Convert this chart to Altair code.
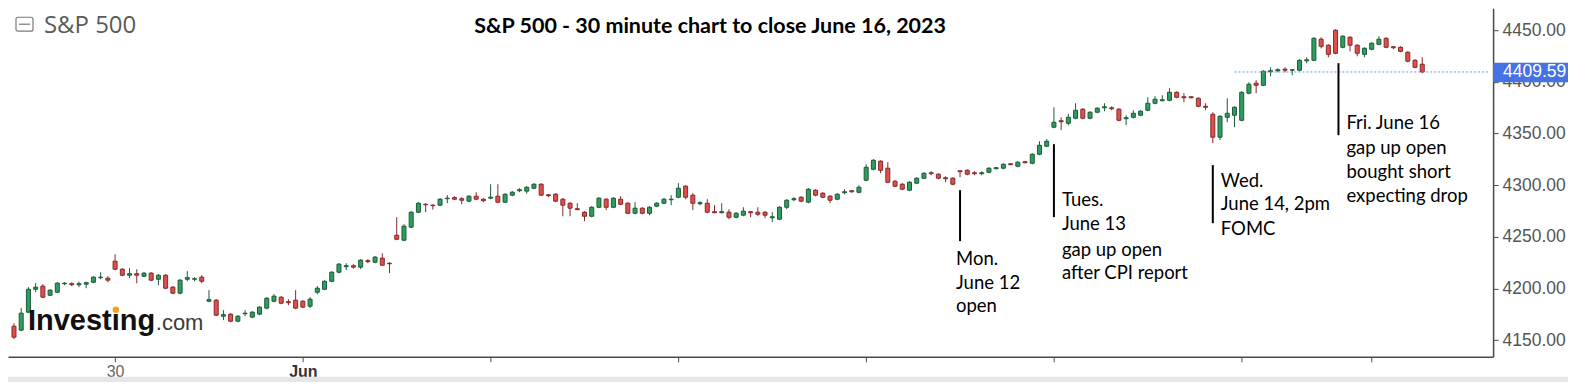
import altair as alt
import pandas as pd

# ---------------- data (30-minute bars, index 0 = first visible bar) ----------------
OPEN = [4163.4, 4159.6, 4177.0, 4199.2, 4202.2, 4193.4, 4196.3, 4204.6, 4204.6, 4203.6,
        4204.1, 4206.0, 4210.4, 4209.9, 4226.4, 4218.6, 4212.8, 4214.3, 4211.8, 4214.8,
        4208.9, 4212.8, 4201.2, 4195.4, 4208.9, 4208.9, 4210.9, 4187.6, 4188.6, 4173.1,
        4175.1, 4168.3, 4175.5, 4172.2, 4175.1, 4180.9, 4187.6, 4191.5, 4187.2, 4188.6,
        4187.6, 4182.8, 4196.3, 4199.2, 4206.9, 4215.7, 4221.1, 4222.0, 4220.6, 4226.9,
        4225.4, 4229.3, 4224.4, 4251.5, 4246.7, 4259.3, 4273.8, 4281.5, 4280.6, 4280.6,
        4286.9, 4287.9, 4286.9, 4284.5, 4289.3, 4286.4, 4287.4, 4289.3, 4283.5, 4290.3,
        4294.6, 4294.2, 4297.0, 4300.9, 4290.7, 4291.2, 4286.4, 4282.5, 4277.2, 4273.8,
        4269.9, 4278.6, 4286.4, 4278.6, 4286.4, 4282.5, 4272.8, 4277.7, 4272.8, 4279.6,
        4282.5, 4285.9, 4288.3, 4299.0, 4290.3, 4282.0, 4282.5, 4274.3, 4273.3, 4273.8,
        4268.9, 4270.9, 4274.3, 4273.8, 4273.8, 4268.4, 4267.0, 4278.6, 4285.9, 4288.3,
        4283.5, 4295.1, 4292.2, 4289.3, 4286.4, 4292.7, 4294.6, 4293.1, 4304.8, 4315.4,
        4323.2, 4316.4, 4303.8, 4300.9, 4295.1, 4301.9, 4306.7, 4312.0, 4310.6, 4307.2,
        4306.7, 4313.9, 4314.4, 4312.0, 4311.1, 4312.5, 4315.9, 4316.4, 4320.7, 4318.3,
        4322.7, 4321.2, 4329.9, 4337.7, 4356.1, 4362.4, 4359.9, 4364.8, 4373.5, 4364.8,
        4370.6, 4374.9, 4374.9, 4373.5, 4364.3, 4365.7, 4367.7, 4372.5, 4379.3, 4381.7,
        4382.2, 4389.9, 4385.6, 4385.6, 4384.1, 4376.4, 4368.6, 4346.4, 4365.7, 4367.7,
        4362.8, 4389.0, 4398.7, 4396.7, 4409.8, 4410.8, 4412.3, 4411.3, 4411.3, 4420.4,
        4420.9, 4441.3, 4435.5, 4450.0, 4433.5, 4443.2, 4435.5, 4426.7, 4431.6, 4436.4,
        4442.2, 4434.0, 4433.5, 4428.7, 4420.9, 4417.1]
HIGH = [4166.3, 4180.9, 4201.2, 4205.1, 4204.1, 4199.2, 4206.0, 4206.0, 4206.0, 4206.5,
        4206.5, 4211.8, 4215.7, 4211.8, 4233.1, 4219.6, 4219.6, 4218.6, 4215.7, 4215.7,
        4213.8, 4213.8, 4202.2, 4208.9, 4216.7, 4210.9, 4212.8, 4198.3, 4189.6, 4179.0,
        4176.0, 4174.1, 4179.0, 4178.0, 4182.8, 4191.5, 4194.4, 4192.5, 4189.6, 4198.3,
        4188.6, 4191.5, 4202.2, 4208.0, 4216.7, 4224.4, 4224.4, 4223.5, 4228.3, 4228.3,
        4231.2, 4234.1, 4225.4, 4269.0, 4262.2, 4274.8, 4283.5, 4282.5, 4281.5, 4287.4,
        4290.3, 4289.3, 4288.3, 4290.3, 4293.2, 4287.4, 4300.9, 4300.9, 4292.2, 4294.2,
        4297.0, 4299.0, 4301.9, 4301.9, 4291.2, 4292.2, 4287.4, 4283.5, 4282.5, 4274.8,
        4279.6, 4288.3, 4287.4, 4288.3, 4289.3, 4283.5, 4283.5, 4278.6, 4279.6, 4283.5,
        4287.4, 4290.3, 4301.9, 4300.0, 4292.2, 4284.5, 4286.4, 4280.6, 4282.5, 4276.7,
        4273.8, 4278.6, 4274.8, 4278.6, 4274.8, 4273.8, 4279.6, 4286.4, 4288.3, 4289.3,
        4297.0, 4296.1, 4293.2, 4290.3, 4292.2, 4296.1, 4295.1, 4299.9, 4320.2, 4325.1,
        4324.1, 4322.2, 4304.8, 4301.9, 4303.8, 4307.7, 4312.5, 4313.5, 4311.5, 4308.6,
        4307.7, 4314.4, 4315.4, 4313.5, 4313.5, 4317.3, 4317.3, 4321.2, 4321.2, 4323.2,
        4323.2, 4330.9, 4342.5, 4344.5, 4375.4, 4365.7, 4369.1, 4379.3, 4374.5, 4371.6,
        4375.4, 4379.3, 4376.4, 4374.5, 4367.7, 4372.5, 4372.5, 4385.1, 4386.1, 4387.0,
        4393.8, 4390.9, 4389.0, 4386.1, 4385.1, 4379.3, 4370.6, 4367.7, 4384.1, 4376.4,
        4390.9, 4399.6, 4401.6, 4411.3, 4414.1, 4413.1, 4414.1, 4412.2, 4421.9, 4423.8,
        4443.2, 4443.2, 4436.4, 4451.0, 4445.2, 4444.2, 4436.4, 4433.5, 4438.4, 4444.2,
        4443.2, 4434.5, 4434.5, 4429.6, 4421.9, 4423.8]
LOW = [4150.9, 4158.6, 4176.0, 4196.3, 4190.5, 4192.5, 4195.4, 4203.1, 4202.2, 4201.2,
       4200.2, 4205.1, 4208.9, 4206.0, 4217.7, 4211.8, 4209.9, 4205.1, 4210.9, 4207.0,
       4203.1, 4199.2, 4194.4, 4194.4, 4207.0, 4207.0, 4205.1, 4186.7, 4173.1, 4169.3,
       4167.3, 4167.3, 4173.1, 4171.2, 4174.1, 4179.9, 4186.7, 4184.7, 4183.8, 4179.9,
       4180.9, 4180.9, 4194.4, 4198.3, 4206.0, 4214.8, 4217.7, 4219.1, 4218.6, 4224.4,
       4224.4, 4221.6, 4214.8, 4246.7, 4245.7, 4258.3, 4272.8, 4273.8, 4276.3, 4279.6,
       4282.5, 4285.4, 4281.5, 4283.5, 4285.4, 4283.5, 4286.4, 4282.5, 4282.5, 4289.3,
       4293.2, 4291.7, 4296.1, 4289.3, 4288.3, 4283.5, 4269.9, 4269.9, 4275.8, 4265.1,
       4268.9, 4277.7, 4275.8, 4277.7, 4280.6, 4271.8, 4271.8, 4271.8, 4270.9, 4278.6,
       4281.5, 4280.6, 4287.4, 4286.4, 4275.8, 4280.6, 4272.8, 4272.8, 4272.8, 4267.0,
       4268.0, 4269.9, 4268.9, 4269.9, 4268.0, 4264.1, 4266.1, 4276.7, 4284.5, 4283.5,
       4282.5, 4289.3, 4287.4, 4282.5, 4285.4, 4291.2, 4292.7, 4292.2, 4303.8, 4314.4,
       4311.5, 4301.9, 4298.0, 4295.1, 4294.1, 4300.9, 4305.7, 4309.6, 4305.7, 4302.8,
       4299.9, 4307.7, 4309.6, 4309.6, 4309.6, 4311.5, 4315.4, 4315.4, 4319.3, 4317.3,
       4321.2, 4320.2, 4329.0, 4336.7, 4355.1, 4353.2, 4358.0, 4363.8, 4363.8, 4363.8,
       4369.6, 4371.6, 4372.5, 4361.9, 4358.0, 4364.8, 4366.7, 4371.6, 4378.3, 4381.2,
       4381.2, 4384.1, 4380.3, 4384.1, 4375.4, 4372.5, 4340.6, 4343.5, 4360.9, 4356.1,
       4361.9, 4388.0, 4389.0, 4395.8, 4405.5, 4409.3, 4409.3, 4406.4, 4410.3, 4418.0,
       4420.0, 4432.5, 4423.8, 4426.7, 4432.5, 4429.6, 4424.8, 4423.8, 4430.6, 4435.5,
       4432.5, 4431.6, 4428.7, 4419.0, 4413.2, 4408.4]
CLOSE = [4152.8, 4176.0, 4199.2, 4201.2, 4191.5, 4198.3, 4205.1, 4205.1, 4203.6, 4204.6,
         4205.6, 4210.9, 4210.9, 4208.0, 4218.6, 4212.8, 4214.3, 4212.8, 4214.8, 4208.0,
         4212.8, 4200.2, 4195.4, 4208.0, 4210.4, 4209.4, 4207.0, 4189.1, 4174.1, 4174.6,
         4168.3, 4173.1, 4176.0, 4177.0, 4181.9, 4190.5, 4192.5, 4185.7, 4186.2, 4180.9,
         4181.9, 4189.6, 4200.2, 4206.9, 4215.7, 4223.5, 4222.0, 4220.6, 4227.4, 4225.9,
         4230.3, 4222.5, 4223.9, 4247.6, 4260.3, 4273.8, 4282.5, 4281.0, 4280.1, 4286.4,
         4287.4, 4286.4, 4285.4, 4289.3, 4286.4, 4284.9, 4288.3, 4283.5, 4291.2, 4293.2,
         4295.6, 4298.0, 4300.9, 4290.3, 4289.8, 4284.5, 4280.6, 4277.7, 4276.3, 4269.9,
         4278.6, 4287.4, 4278.6, 4287.4, 4281.5, 4272.8, 4277.7, 4272.8, 4278.6, 4282.5,
         4286.4, 4286.4, 4297.0, 4288.3, 4282.5, 4283.0, 4273.8, 4273.3, 4274.3, 4268.9,
         4272.8, 4274.8, 4273.3, 4271.8, 4270.9, 4269.4, 4278.6, 4285.4, 4286.9, 4284.5,
         4296.1, 4290.3, 4288.3, 4285.4, 4291.2, 4293.6, 4293.6, 4298.0, 4317.3, 4324.1,
         4314.4, 4302.8, 4299.0, 4296.1, 4302.8, 4306.7, 4311.5, 4311.1, 4306.7, 4306.2,
         4300.9, 4313.0, 4310.6, 4311.1, 4312.0, 4316.4, 4316.9, 4320.2, 4319.8, 4322.2,
         4321.7, 4329.9, 4338.6, 4342.5, 4360.9, 4361.4, 4365.7, 4372.5, 4364.8, 4370.6,
         4374.5, 4375.9, 4374.0, 4362.8, 4365.3, 4369.6, 4371.6, 4379.3, 4383.2, 4382.7,
         4389.9, 4385.1, 4384.6, 4384.6, 4376.4, 4375.4, 4346.4, 4366.7, 4369.6, 4375.4,
         4389.9, 4397.7, 4396.7, 4410.3, 4410.8, 4411.8, 4411.3, 4411.8, 4420.9, 4421.4,
         4442.2, 4434.5, 4426.7, 4427.7, 4444.2, 4435.5, 4427.7, 4432.5, 4437.4, 4441.3,
         4433.5, 4433.1, 4429.6, 4420.0, 4414.1, 4409.59]

LAST_PRICE = 4409.59
Y_TICKS = [4150, 4200, 4250, 4300, 4350, 4400, 4450]
X_TICKS = [14, 40, 66, 92, 118, 144, 170, 188]     # bar index of each date tick
X_TICK_LABELS = {14: "30", 40: "Jun"}

TITLE = "S&P 500 - 30 minute chart to close June 16, 2023"
INSTRUMENT = "S&P 500"

# annotations: bar index, line top / bottom price, text lines with their price rows
ANNOTATIONS = [
    {"i": 131, "top": 4295.1, "bot": 4245.8, "dx": -4,
     "lines": ["Mon.", "June 12", "open"], "rows": [4228.6, 4205.4, 4183.1]},
    {"i": 144, "top": 4339.7, "bot": 4269.0, "dx": 8,
     "lines": ["Tues.", "June 13", "gap up open", "after CPI report"],
     "rows": [4285.7, 4262.5, 4237.3, 4215.1]},
    {"i": 166, "top": 4319.4, "bot": 4263.2, "dx": 8,
     "lines": ["Wed.", "June 14, 2pm", "FOMC"], "rows": [4304.0, 4281.8, 4257.6]},
    {"i": 183.4, "top": 4418.1, "bot": 4348.4, "dx": 8,
     "lines": ["Fri. June 16", "gap up open", "bought short", "expecting drop"],
     "rows": [4360.1, 4335.9, 4312.7, 4289.5]},
]

# ---------------- layout ----------------
W, H = 1487, 349
RP, BP = 75, 25
XDOM = [-0.137, 204.12]
YDOM = [4133.8, 4471.3]
G_FILL, G_LINE = "#2e9e5f", "#1c5a37"
R_FILL, R_LINE = "#e0504b", "#85282a"
AX = "#4a4a4a"

df = pd.DataFrame({"i": list(range(len(OPEN))), "open": OPEN, "high": HIGH,
                   "low": LOW, "close": CLOSE})
df["dir"] = ["up" if c >= o else "down" for o, c in zip(OPEN, CLOSE)]

xscale = alt.Scale(domain=XDOM, nice=False, zero=False)
yscale = alt.Scale(domain=YDOM, nice=False, zero=False)

label_expr = " : ".join(f"datum.value == {k} ? '{v}'" for k, v in X_TICK_LABELS.items()) + " : ''"

x_axis = alt.Axis(values=X_TICKS, labelExpr=label_expr, grid=False, title=None,
                  domainColor=AX, domainWidth=1.5, tickColor=AX, tickSize=5,
                  labelFont="Liberation Sans", labelFontSize=16, labelPadding=2,
                  labelColor={"condition": {"test": "datum.value == 40", "value": "#333333"},
                              "value": "#666666"},
                  labelFontWeight={"condition": {"test": "datum.value == 40", "value": "bold"},
                                   "value": "normal"},
                  labelOverlap=False, labelFlush=False)
y_axis = alt.Axis(orient="right", values=Y_TICKS, format=".2f", grid=False, title=None,
                  domainColor=AX, domainWidth=1.5, tickColor=AX, tickSize=5,
                  labelFont="Liberation Sans", labelFontSize=17.5, labelColor="#555555",
                  labelPadding=4, labelOverlap=False, labelFlush=False)


def X(field):
    return alt.X(field, scale=xscale, axis=x_axis)


def Y(field):
    return alt.Y(field, scale=yscale, axis=y_axis)


stroke_scale = alt.Scale(domain=["up", "down"], range=[G_LINE, R_LINE])
fill_scale = alt.Scale(domain=["up", "down"], range=[G_FILL, R_FILL])

one = pd.DataFrame({"t": [TITLE], "s": [INSTRUMENT], "a": ["Investing"], "b": [".com"]})
band = alt.Chart(one).mark_rect(color="#e6e6e6").encode(
    x=alt.value(-10), x2=alt.value(W + RP + 10), y=alt.value(369), y2=alt.value(H + BP + 10))

base = alt.Chart(df)
wicks = base.mark_rule(strokeWidth=1).encode(
    x=X("i:Q"), y=Y("low:Q"), y2="high:Q",
    stroke=alt.Stroke("dir:N", scale=stroke_scale, legend=None),
)
bodies = base.mark_bar(size=4, strokeWidth=1).encode(
    x=X("i:Q"), y=Y("open:Q"), y2="close:Q",
    fill=alt.Fill("dir:N", scale=fill_scale, legend=None),
    stroke=alt.Stroke("dir:N", scale=stroke_scale, legend=None),
)

# last price dotted line + label box
last_df = pd.DataFrame({"i": [169], "i2": [XDOM[1]], "p": [LAST_PRICE],
                        "b1": [4418.4], "b2": [4399.7], "t": [f"{LAST_PRICE:.2f}"]})
last_line = alt.Chart(last_df).mark_rule(color="#6b93e4", strokeWidth=1, strokeDash=[2, 2]).encode(
    x=X("i:Q"), x2="i2:Q", y=Y("p:Q"))
last_box = alt.Chart(last_df).mark_rect(color="#4672e3").encode(
    x=alt.value(W), x2=alt.value(W + RP), y=Y("b1:Q"), y2="b2:Q")
last_txt = alt.Chart(last_df).mark_text(align="left", baseline="middle", font="Liberation Sans",
                                        fontSize=17.5, color="white").encode(
    x=alt.value(W + 10), y=Y("p:Q"), text="t:N")

# annotations
ann_layers = []
ann_lines_df = pd.DataFrame({"i": [a["i"] for a in ANNOTATIONS],
                             "top": [a["top"] for a in ANNOTATIONS],
                             "bot": [a["bot"] for a in ANNOTATIONS]})
ann_layers.append(alt.Chart(ann_lines_df).mark_rule(color="black", strokeWidth=2).encode(
    x=X("i:Q"), y=Y("top:Q"), y2="bot:Q"))
for a in ANNOTATIONS:
    tdf = pd.DataFrame({"i": [a["i"]] * len(a["lines"]), "p": a["rows"], "t": a["lines"]})
    ann_layers.append(alt.Chart(tdf).mark_text(align="left", baseline="middle", dx=a["dx"],
                                               font="Lato", fontSize=18.5, color="black").encode(
        x=X("i:Q"), y=Y("p:Q"), text="t:N"))

title = alt.Chart(one).mark_text(align="center", baseline="alphabetic", font="Lato",
                                 fontWeight="bold", fontSize=21.5, color="black").encode(
    x=alt.value(703), y=alt.value(25), text="t:N")
inst = alt.Chart(one).mark_text(align="left", baseline="alphabetic", font="Open Sans",
                                fontSize=24, color="#5a5a5a").encode(
    x=alt.value(36), y=alt.value(25), text="s:N")
icon_box = alt.Chart(one).mark_rect(fillOpacity=0, stroke="#7a7a7a", strokeWidth=1.2,
                                    cornerRadius=2).encode(
    x=alt.value(8), x2=alt.value(25), y=alt.value(9), y2=alt.value(23))
icon_bar = alt.Chart(one).mark_rule(color="#7a7a7a", strokeWidth=1.2).encode(
    x=alt.value(11), x2=alt.value(22), y=alt.value(16))
logo_a = alt.Chart(one).mark_text(align="left", baseline="alphabetic", font="Liberation Sans",
                                  fontWeight="bold", fontSize=29, color="#111111").encode(
    x=alt.value(20), y=alt.value(322), text="a:N")
logo_b = alt.Chart(one).mark_text(align="left", baseline="alphabetic", font="Liberation Sans",
                                  fontSize=22, color="#3a3a3a").encode(
    x=alt.value(148), y=alt.value(322), text="b:N")
logo_dot = alt.Chart(one).mark_point(filled=True, shape="circle", size=42, color="#f4a21e",
                                     opacity=1).encode(x=alt.value(108), y=alt.value(302))

chart = alt.layer(
    band, wicks, bodies, last_line, *ann_layers, last_box, last_txt,
    title, inst, icon_box, icon_bar, logo_a, logo_b, logo_dot,
).properties(
    width=W, height=H,
    autosize=alt.AutoSizeParams(type="none"),
    padding={"left": 0, "top": 0, "right": RP, "bottom": BP},
).configure_view(strokeWidth=0)

chart.save("out.html", embed_options={"renderer": "svg", "actions": False})
